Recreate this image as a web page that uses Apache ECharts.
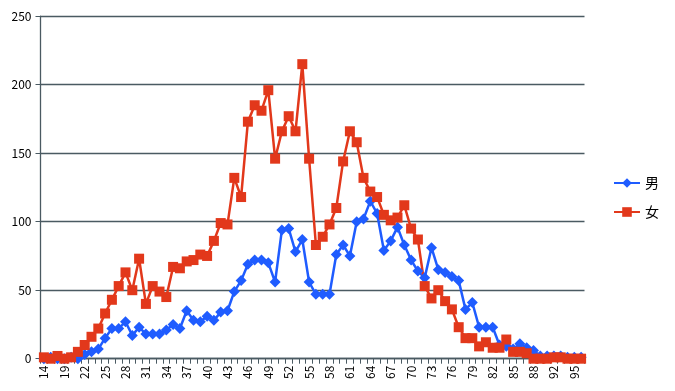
<!DOCTYPE html>
<html><head><meta charset="utf-8">
<script src="https://cdn.jsdelivr.net/npm/echarts@6/dist/echarts.min.js"></script>
<style>html,body{margin:0;padding:0;background:#fff}#c{width:675px;height:391px}</style>
</head><body><div id="c"></div>
<script>
var ages = ['14','16','18','19','20','21','22','23','24','25','26','27','28','29','30','31','32','33','34','35','36','37','38','39','40','41','42','43','44','45','46','47','48','49','50','51','52','53','54','55','56','57','58','59','60','61','62','63','64','65','66','67','68','69','70','71','72','73','74','75','76','77','78','79','80','81','82','83','84','85','86','87','88','89','91','92','93','94','95','96'];
var male = [0,1,0,0,1,0,3,5,7,15,22,22,27,17,23,18,18,18,21,25,22,35,28,27,31,28,34,35,49,57,69,72,72,70,56,94,95,78,87,56,47,47,47,76,83,75,100,102,115,106,79,86,96,83,72,64,59,81,65,63,60,57,36,41,23,23,23,10,9,7,11,8,6,2,2,2,2,1,1,1];
var female = [1,0,2,0,1,5,10,16,22,33,43,53,63,50,73,40,53,49,45,67,66,71,72,76,75,86,99,98,132,118,173,185,181,196,146,166,177,166,215,146,83,89,98,110,144,166,158,132,122,118,105,101,103,112,95,87,53,44,50,42,36,23,15,15,9,12,8,8,14,5,5,4,0,0,0,1,1,0,0,0];
var seriesNames = ['男','女'];
var yTicks = [0,50,100,150,200,250];

var chart = echarts.init(document.getElementById('c'));
var axisColor = '#4a5a62';
var font = '"Noto Sans CJK JP", "DejaVu Sans", sans-serif';
chart.setOption({
  animation: false,
  grid: {left: 40.5, right: 90.5, top: 16.2, bottom: 32.3},
  legend: {
    orient: 'vertical', left: 608, top: 171, itemWidth: 26, itemHeight: 12, itemGap: 15,
    textStyle: {fontFamily: font, fontSize: 14, color: '#000'},
    data: seriesNames
  },
  xAxis: {
    type: 'category', data: ages, boundaryGap: true,
    axisLine: {lineStyle: {color: axisColor, width: 1.3}},
    axisTick: {show: true, interval: 0, length: 5, lineStyle: {color: axisColor}},
    axisLabel: {interval: 2, rotate: 90, margin: 7, fontFamily: font, fontSize: 12, color: '#000'}
  },
  yAxis: {
    type: 'value', min: yTicks[0], max: yTicks[yTicks.length-1], interval: 50,
    axisLine: {show: true, lineStyle: {color: axisColor, width: 1.3}},
    axisTick: {show: true, length: 5, lineStyle: {color: axisColor}},
    axisLabel: {margin: 9, fontFamily: font, fontSize: 12, color: '#000'},
    splitLine: {lineStyle: {color: axisColor, width: 1.3}}
  },
  series: [
    {name: seriesNames[0], type: 'line', data: male, symbol: 'diamond', symbolSize: 11, showAllSymbol: true,
     lineStyle: {color: '#1f5cff', width: 2.5}, itemStyle: {color: '#1f5cff'}},
    {name: seriesNames[1], type: 'line', data: female, symbol: 'rect', symbolSize: 10, showAllSymbol: true,
     lineStyle: {color: '#e2381b', width: 2.5}, itemStyle: {color: '#e2381b'}}
  ]
});
</script></body></html>
